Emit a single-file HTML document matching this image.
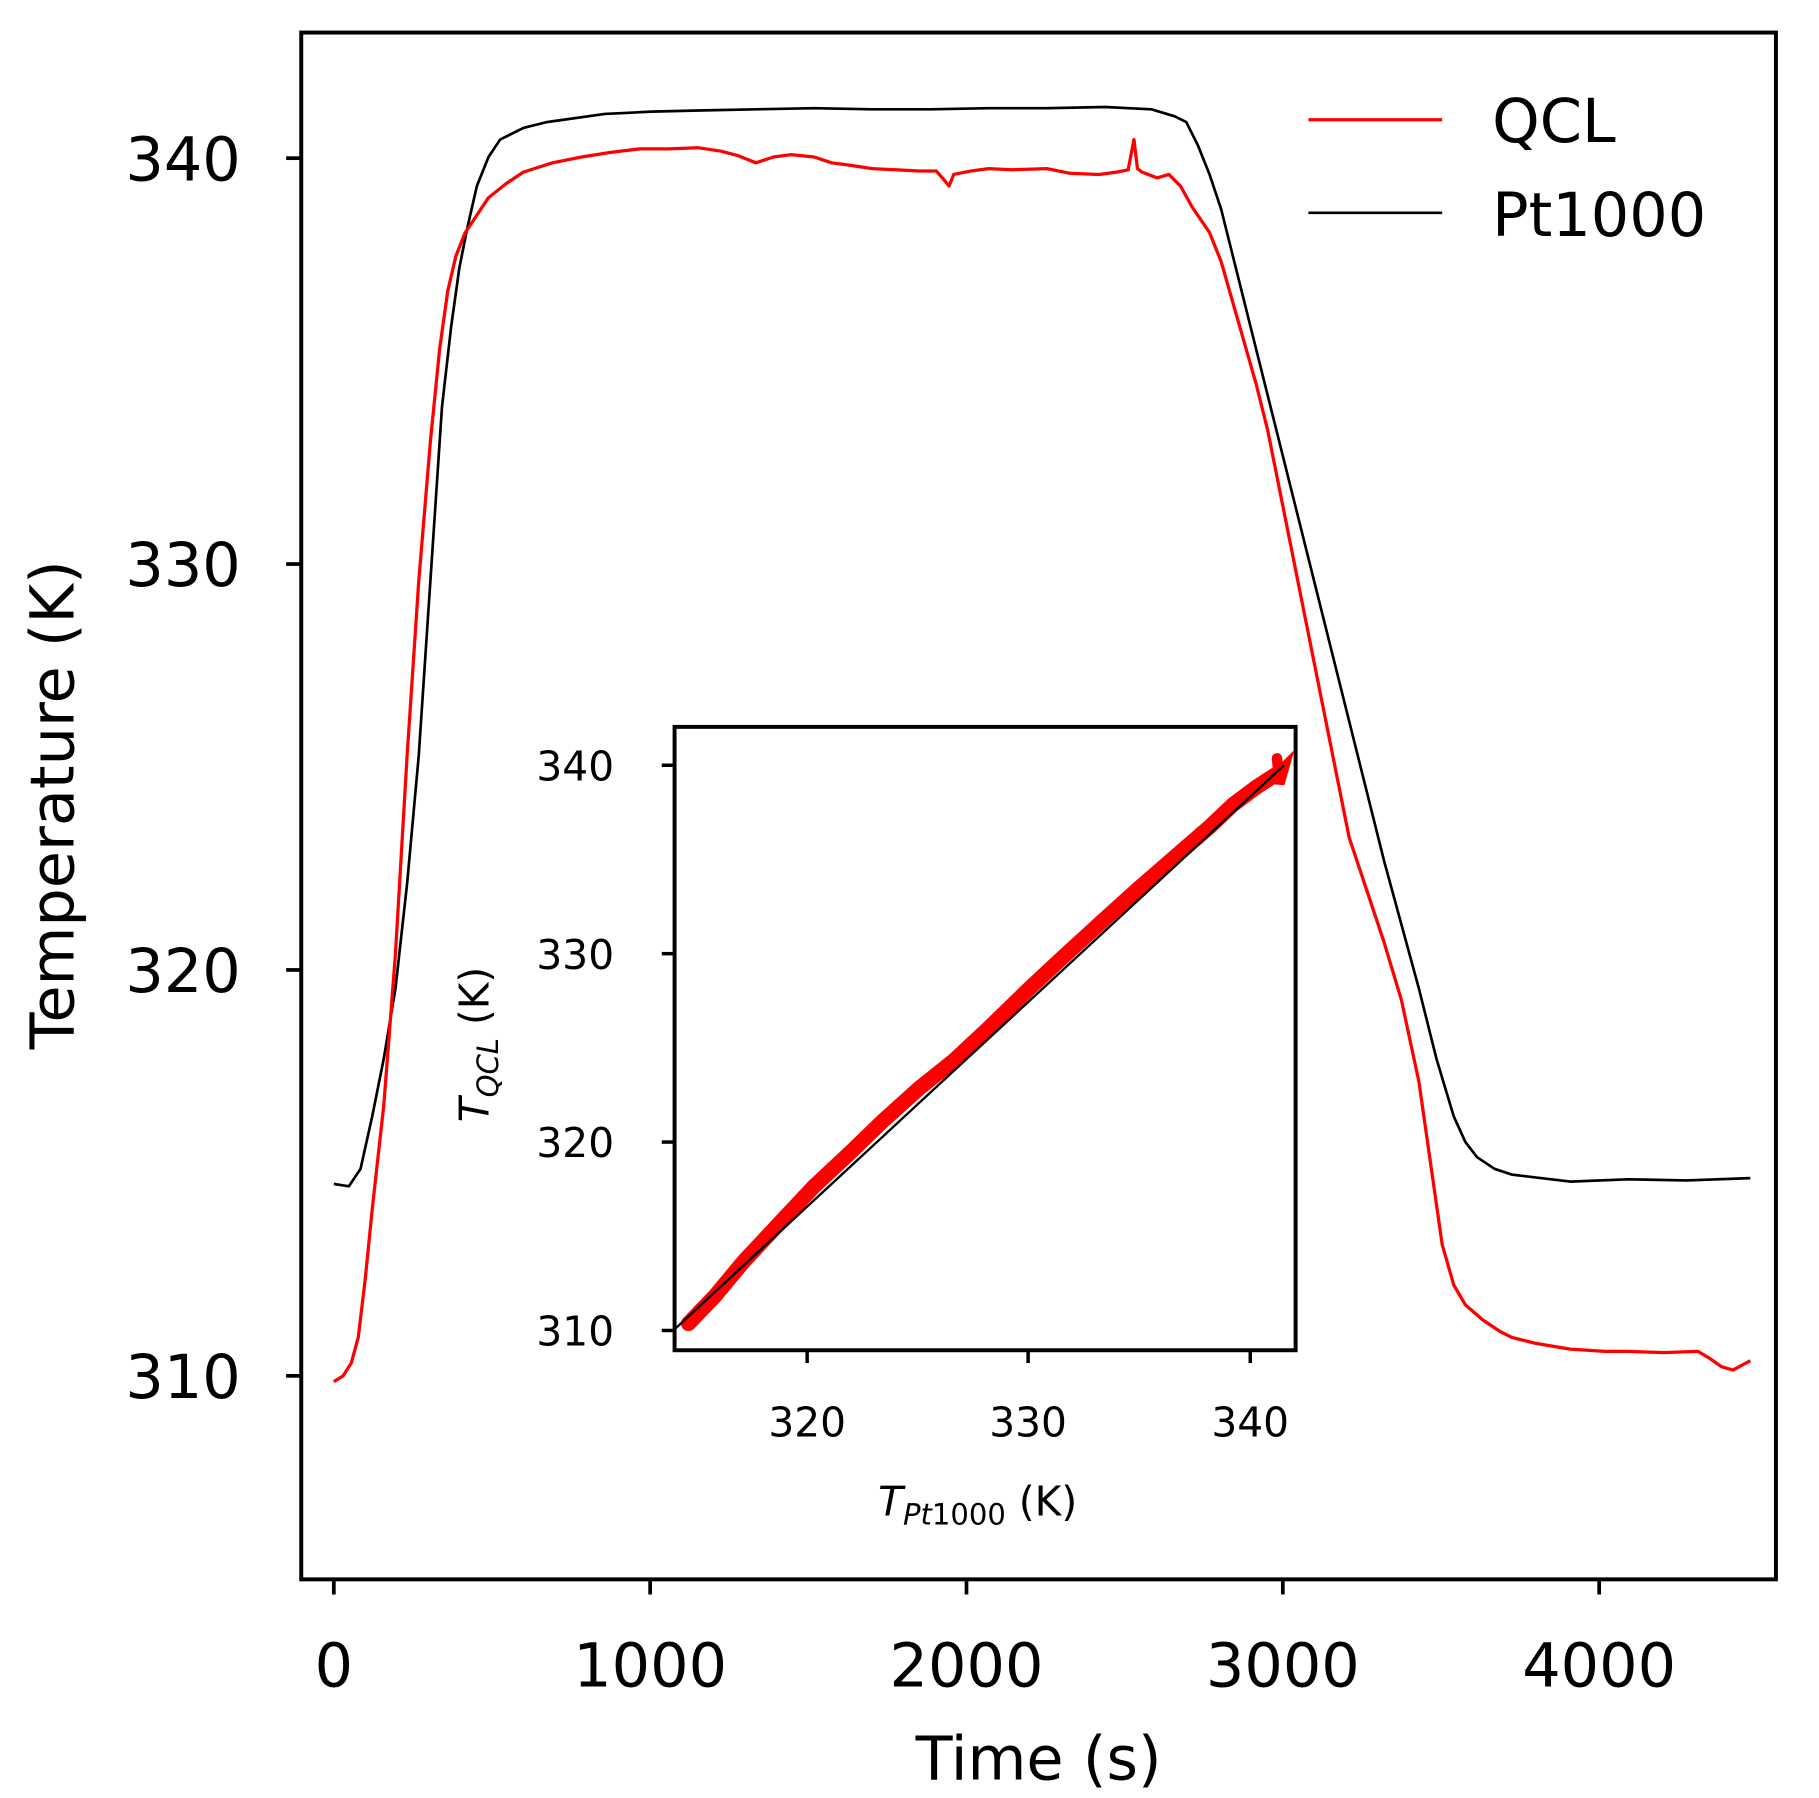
<!DOCTYPE html>
<html><head><meta charset="utf-8"><style>html,body{margin:0;padding:0;background:#fff}svg{display:block}</style></head>
<body>
<svg xmlns="http://www.w3.org/2000/svg" width="1819" height="1798" viewBox="0 0 1564 1546" font-family="DejaVu Sans, Liberation Sans, sans-serif">
<rect width="1564" height="1546" fill="#fff"/>
<!-- main series -->
<polyline fill="none" stroke="#000" stroke-width="2.3" stroke-linejoin="round" points="287,1018 300,1020 310,1005 320,960 330,910 340,850 350,760 360,650 370,500 380,350 388,280 395,230 402,195 410,160 420,135 430,120 450,110 470,105 520,98 560,96 600,95 650,94 700,93 750,94 800,94 850,93 900,93 950,92 990,94 1010,100 1020,105 1030,125 1040,150 1050,180 1065,240 1080,300 1100,380 1115,440 1130,500 1145,560 1160,620 1175,680 1190,740 1205,795 1220,850 1235,910 1250,960 1260,982 1270,995 1285,1005 1300,1010 1350,1016 1400,1014 1450,1015 1505,1013"/>
<polyline fill="none" stroke="#ff0000" stroke-width="2.8" stroke-linejoin="round" points="287,1188 295,1183 302,1172 308,1150 314,1100 320,1040 330,950 340,820 350,650 360,500 370,380 378,300 385,250 392,220 400,200 410,185 420,170 435,158 450,148 475,140 500,135 525,131 550,128 575,128 600,127 620,130 635,134 650,140 665,135 680,133 700,135 715,140 730,142 750,145 770,146 790,147 805,147 812,155 816,160 820,150 835,147 850,145 870,146 900,145 920,149 945,150 960,148 970,146 975,120 978,145 982,148 995,153 1005,150 1015,160 1025,178 1040,200 1050,225 1060,260 1070,295 1080,330 1090,370 1100,420 1110,470 1120,520 1130,570 1140,620 1150,670 1160,720 1175,765 1190,810 1205,860 1220,930 1230,1000 1240,1070 1250,1105 1260,1122 1275,1135 1290,1145 1300,1150 1320,1155 1350,1160 1380,1162 1400,1162 1430,1163 1460,1162 1470,1168 1480,1175 1490,1178 1505,1170"/>
<!-- main frame -->
<rect x="259" y="28" width="1268" height="1330" fill="none" stroke="#000" stroke-width="3.4"/>
<g stroke="#000" stroke-width="3.2">
<line x1="246" y1="136" x2="259" y2="136"/><line x1="246" y1="485" x2="259" y2="485"/><line x1="246" y1="834" x2="259" y2="834"/><line x1="246" y1="1183" x2="259" y2="1183"/>
<line x1="287" y1="1358" x2="287" y2="1371"/><line x1="559" y1="1358" x2="559" y2="1371"/><line x1="831" y1="1358" x2="831" y2="1371"/><line x1="1103" y1="1358" x2="1103" y2="1371"/><line x1="1375" y1="1358" x2="1375" y2="1371"/>
</g>
<g font-size="52" fill="#000" text-anchor="end">
<text x="207" y="155">340</text><text x="207" y="504">330</text><text x="207" y="853">320</text><text x="207" y="1202">310</text>
</g>
<g font-size="52" fill="#000" text-anchor="middle">
<text x="287" y="1450">0</text><text x="559" y="1450">1000</text><text x="831" y="1450">2000</text><text x="1103" y="1450">3000</text><text x="1375" y="1450">4000</text>
<text x="893" y="1530">Time (s)</text>
<text transform="translate(63,692) rotate(-90)">Temperature (K)</text>
</g>
<!-- legend -->
<line x1="1125" y1="103" x2="1240" y2="103" stroke="#ff0000" stroke-width="2.8"/>
<line x1="1125" y1="183" x2="1240" y2="183" stroke="#000" stroke-width="2.3"/>
<g font-size="52" fill="#000"><text x="1283" y="122">QCL</text><text x="1283" y="203">Pt1000</text></g>
<!-- inset -->
<rect x="580" y="625" width="534" height="536" fill="#fff" stroke="#000" stroke-width="3.4"/>
<polyline fill="none" stroke="#ff0000" stroke-width="13" stroke-linecap="round" stroke-linejoin="round" points="592,1138 615,1114 640,1084 670,1052 700,1020 730,992 760,963 790,936 820,912 850,884 885,850 915,822 950,790 980,763 1010,737 1040,711 1060,692 1080,677 1100,664"/>
<polyline fill="none" stroke="#ff0000" stroke-width="9" stroke-linecap="round" points="1098,652 1100,674 1104,660 1096,668"/>
<line x1="580" y1="1143" x2="1104" y2="658" stroke="#000" stroke-width="2"/>
<g stroke="#000" stroke-width="3">
<line x1="569" y1="658" x2="580" y2="658"/><line x1="569" y1="820" x2="580" y2="820"/><line x1="569" y1="982" x2="580" y2="982"/><line x1="569" y1="1144" x2="580" y2="1144"/>
<line x1="694" y1="1161" x2="694" y2="1172"/><line x1="884" y1="1161" x2="884" y2="1172"/><line x1="1075" y1="1161" x2="1075" y2="1172"/>
</g>
<g font-size="35" fill="#000" text-anchor="end">
<text x="528" y="671">340</text><text x="528" y="833">330</text><text x="528" y="995">320</text><text x="528" y="1157">310</text>
</g>
<g font-size="35" fill="#000" text-anchor="middle">
<text x="694" y="1235">320</text><text x="884" y="1235">330</text><text x="1075" y="1235">340</text>
</g>
<text x="755" y="1303" font-size="35" fill="#000"><tspan font-style="italic">T</tspan><tspan font-size="25" font-style="italic" dy="8">Pt</tspan><tspan font-size="25" dy="0">1000</tspan><tspan dy="-8"> (K)</tspan></text>
<text transform="translate(420,965) rotate(-90)" font-size="35" fill="#000"><tspan font-style="italic">T</tspan><tspan font-size="25" font-style="italic" dy="8">QCL</tspan><tspan dy="-8"> (K)</tspan></text>
</svg>
</body></html>
